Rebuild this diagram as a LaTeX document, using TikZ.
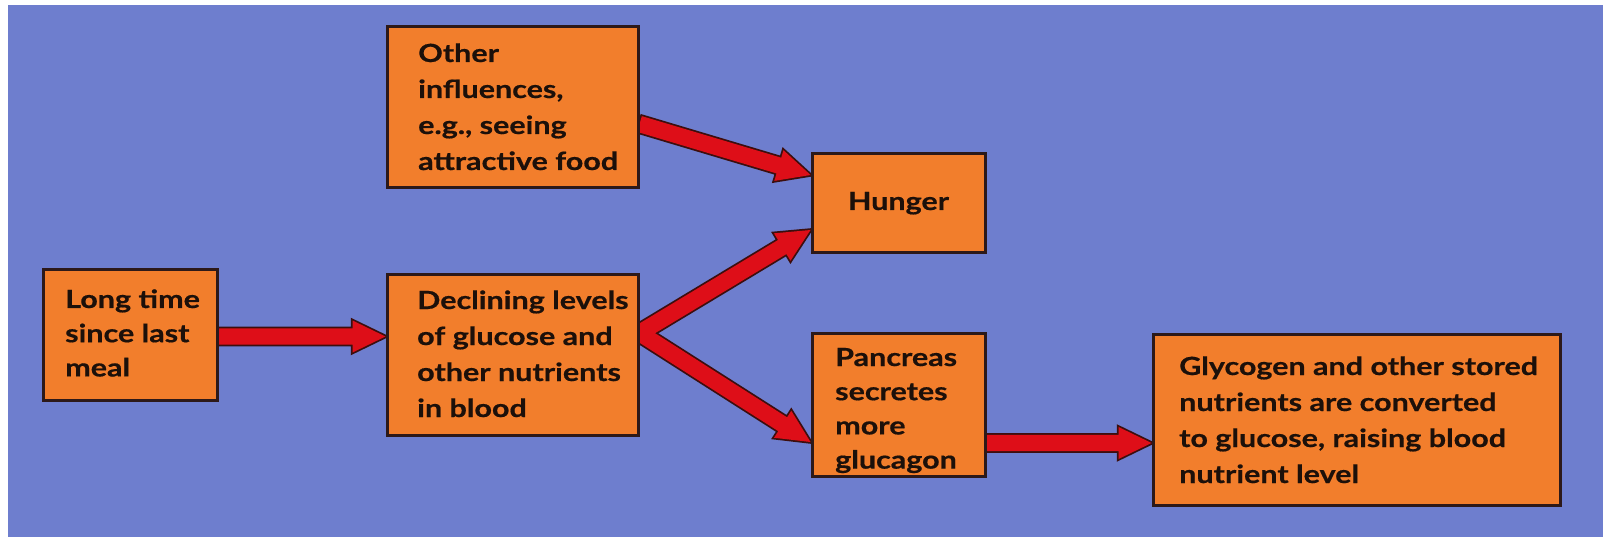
\documentclass[tikz,border=0pt]{standalone}
\usepackage{fontspec}
\setmainfont{Lato}[FakeStretch=1.22, BoldFeatures={FakeBold=0.6}]
\usetikzlibrary{calc}
\definecolor{bgblue}{RGB}{110,126,206}
\definecolor{boxorange}{RGB}{242,126,44}
\definecolor{boxline}{RGB}{45,25,25}
\definecolor{arrred}{RGB}{222,14,24}
\definecolor{arrline}{RGB}{60,14,14}
\definecolor{txtcol}{RGB}{28,16,10}
\pgfdeclarelayer{bglayer}
\pgfdeclarelayer{arrlayer}
\pgfsetlayers{bglayer,arrlayer,main}
\newcommand\blockarrow[3]{%
  \coordinate (as) at (#2);
  \coordinate (ae) at (#3);
  \coordinate (ah) at ($(ae)!33pt!(as)$);
  \path[#1] ($(as)!8.2pt!90:(ae)$) -- ($(ah)!8.2pt!-90:(as)$) -- ($(ah)!16pt!-90:(as)$) -- (ae)
     -- ($(ah)!16pt!90:(as)$) -- ($(ah)!8.2pt!90:(as)$) -- ($(as)!8.2pt!-90:(ae)$) -- cycle;}
\begin{document}
\begin{tikzpicture}[x=1pt,y=-1pt,
  box/.style={draw=boxline, line width=3pt, fill=boxorange, rectangle, inner sep=0pt},
  lbl/.style={anchor=base west, inner sep=0pt, text=txtcol, font=\fontsize{25}{36}\selectfont\bfseries},
  tight/.style={font=\fontsize{25}{34.2}\selectfont\bfseries},
  arrout/.style={draw=arrline, fill=arrline, line width=3.5pt, line join=miter},
  arrfill/.style={fill=arrred}]
\useasboundingbox (0,0) rectangle (1603,537);
\begin{pgfonlayer}{bglayer}
  \fill[white] (0,0) rectangle (1603,537);
  \fill[bgblue] (8,5) rectangle (1603,537);
\end{pgfonlayer}
% boxes
\node[box, minimum width=251pt, minimum height=161pt] (oth) at (512.5,107.5) {};
\node[box, minimum width=173pt, minimum height=99pt] (hun) at (898.5,203.5) {};
\node[box, minimum width=174pt, minimum height=130pt] (lon) at (130,335) {};
\node[box, minimum width=251pt, minimum height=160pt] (dec) at (512.5,355) {};
\node[box, minimum width=173pt, minimum height=143pt] (pan) at (898.5,404.5) {};
\node[box, minimum width=407pt, minimum height=171pt] (gly) at (1356.5,419.5) {};
% texts
\node[lbl] (othT) at (418,62) {\begin{tabular}[t]{@{}l@{}}Other\\influences,\\e.g., seeing\\attractive food\end{tabular}};
\node[lbl, anchor=base] (hunT) at (898.5,210) {Hunger};
\node[lbl, tight] (lonT) at (65,308) {\begin{tabular}[t]{@{}l@{}}Long time\\since last\\meal\end{tabular}};
\node[lbl] (decT) at (417,309) {\begin{tabular}[t]{@{}l@{}}Declining levels\\of glucose and\\other nutrients\\in blood\end{tabular}};
\node[lbl, tight] (panT) at (835,366) {\begin{tabular}[t]{@{}l@{}}Pancreas\\secretes\\more\\glucagon\end{tabular}};
\node[lbl] (glyT) at (1179,375) {\begin{tabular}[t]{@{}l@{}}Glycogen and other stored\\nutrients are converted\\to glucose, raising blood\\nutrient level\end{tabular}};
% arrows
\begin{pgfonlayer}{arrlayer}
  \blockarrow{arrout}{[yshift=-1.5pt]lon.east}{[yshift=18.5pt]dec.west}
  \blockarrow{arrout}{[yshift=-16.5pt]oth.east}{[yshift=28.5pt]hun.west}
  \blockarrow{arrout}{[yshift=22pt]dec.east}{[yshift=-26.5pt]hun.west}
  \blockarrow{arrout}{[yshift=22pt]dec.east}{[yshift=-37.5pt]pan.west}
  \blockarrow{arrout}{[yshift=-38.5pt]pan.east}{[yshift=-23.5pt]gly.west}
  \blockarrow{arrfill}{[yshift=-1.5pt]lon.east}{[yshift=18.5pt]dec.west}
  \blockarrow{arrfill}{[yshift=-16.5pt]oth.east}{[yshift=28.5pt]hun.west}
  \blockarrow{arrfill}{[yshift=22pt]dec.east}{[yshift=-26.5pt]hun.west}
  \blockarrow{arrfill}{[yshift=22pt]dec.east}{[yshift=-37.5pt]pan.west}
  \blockarrow{arrfill}{[yshift=-38.5pt]pan.east}{[yshift=-23.5pt]gly.west}
\end{pgfonlayer}
\end{tikzpicture}
\end{document}
